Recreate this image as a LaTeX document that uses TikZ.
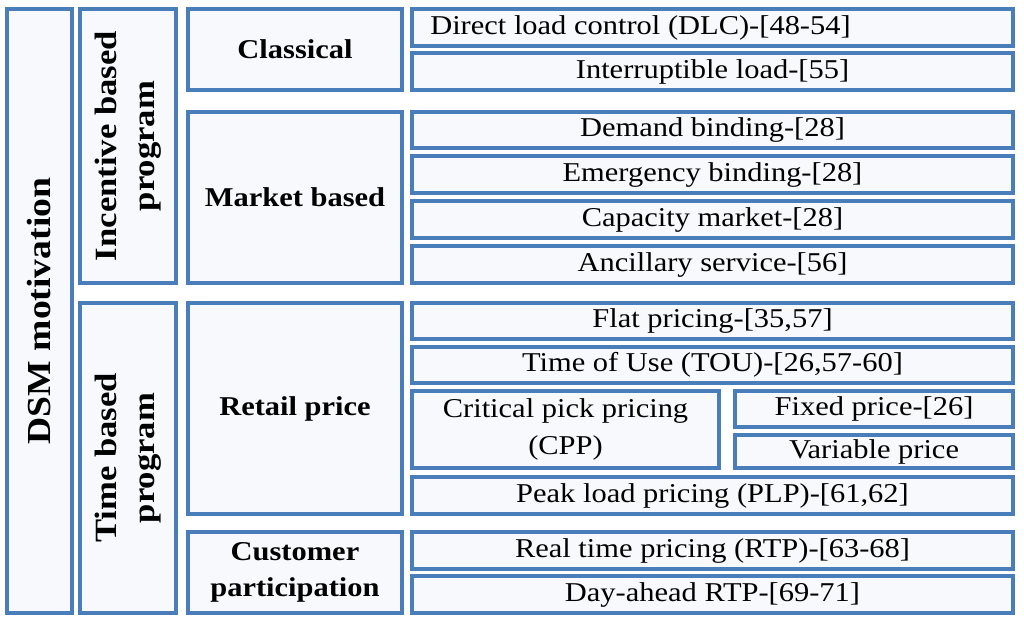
\documentclass[tikz,border=0pt]{standalone}
\usepackage{fontspec}
\setmainfont{Liberation Serif}[FakeStretch=1.12]
\definecolor{bordc}{HTML}{4A7EBB}
\definecolor{fillc}{HTML}{F8F9FC}
\tikzset{
  box/.style={draw=bordc,fill=fillc,line width=2.6pt,inner sep=0pt,outer sep=0pt,
    align=center,font=\fontsize{20.4}{27.5}\selectfont},
  bbox/.style={box,font=\fontsize{20.4}{27.5}\selectfont\bfseries},
  vlabel/.style={rotate=90,align=center,font=\fontsize{23.2}{28.5}\selectfont\bfseries},
}
\newcommand\bx[7][box]{\node[#1,minimum width={(#5-#3)*0.75pt},minimum height={(#6-#4)*0.75pt}] (#2) at ({(#3+#5)/2},{(#4+#6)/2}) {#7};}
\begin{document}
\begin{tikzpicture}[x=0.75pt,y=-0.75pt]
\useasboundingbox (0,0) rectangle (1024,622);
% level 1 and 2
\bx{dsm}{7}{9}{72}{613}{}
\node[vlabel,font=\fontsize{25.2}{30}\selectfont\bfseries] (dsmt) at (dsm) {DSM motivation};
\bx{inc}{80}{9}{176}{283}{}
\node[vlabel] (inct) at (inc) {Incentive based\\program};
\bx{tim}{80}{303}{176}{613}{}
\node[vlabel] (timt) at (tim) {Time based\\program};
% level 3
\bx[bbox]{cla}{188}{9}{402}{90}{Classical}
\bx[bbox]{mkt}{188}{112}{402}{283}{Market based}
\bx[bbox]{ret}{188}{303}{402}{514}{Retail price}
\bx[bbox]{cus}{188}{532}{402}{613}{Customer\\participation}
% level 4
\bx{dlc}{412}{9}{1013}{46}{}
\node[anchor=west,inner sep=0pt,font=\fontsize{20.4}{27.5}\selectfont] (dlct) at ([xshift=13.5pt]dlc.west) {Direct load control (DLC)-[48-54]};
\bx{int}{412}{53}{1013}{90}{Interruptible load-[55]}
\bx{dem}{412}{112}{1013}{148}{Demand binding-[28]}
\bx{eme}{412}{156}{1013}{193}{Emergency binding-[28]}
\bx{cap}{412}{201}{1013}{238}{Capacity market-[28]}
\bx{anc}{412}{246}{1013}{283}{Ancillary service-[56]}
\bx{fla}{412}{303}{1013}{339}{Flat pricing-[35,57]}
\bx{tou}{412}{347}{1013}{383}{Time of Use (TOU)-[26,57-60]}
\bx{cpp}{412}{391}{719}{468}{Critical pick pricing\\(CPP)}
\bx{fix}{735}{391}{1013}{427}{Fixed price-[26]}
\bx{var}{735}{435}{1013}{468}{Variable price}
\bx{plp}{412}{477}{1013}{514}{Peak load pricing (PLP)-[61,62]}
\bx{rtp}{412}{532}{1013}{569}{Real time pricing (RTP)-[63-68]}
\bx{day}{412}{576}{1013}{613}{Day-ahead RTP-[69-71]}
\end{tikzpicture}
\end{document}
